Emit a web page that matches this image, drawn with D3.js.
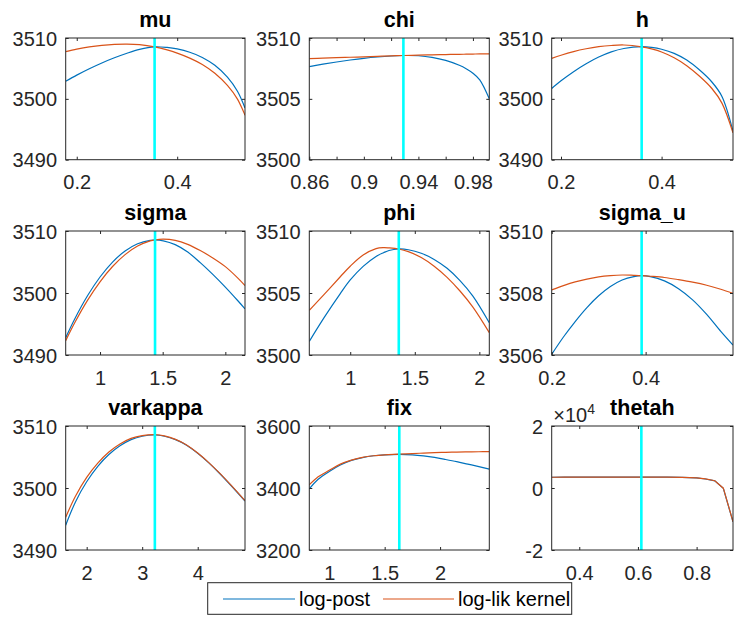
<!DOCTYPE html>
<html>
<head>
<meta charset="utf-8">
<script src="https://cdn.jsdelivr.net/npm/d3@7"></script>
<style>
  html, body { margin: 0; padding: 0; background: #fff; }
  svg { display: block; }
</style>
</head>
<body>
<svg id="chart" width="735" height="617"></svg>
<script>
// ---- parameters, modes and axis limits ----
const paramNames = ["mu", "chi", "h", "sigma", "phi", "sigma_u", "varkappa", "fix", "thetah"];
const modeValues = [0.355, 0.929, 0.3604, 1.439, 1.376, 0.3915, 3.228, 1.632, 0.6116];
const xLimits = [[0.178, 0.535], [0.86, 0.992], [0.1815, 0.542], [0.726, 2.157], [0.683, 2.077],
                 [0.2, 0.586], [1.622, 4.852], [0.82, 2.444], [0.306, 0.924]];
const yLimits = [[3490, 3510], [3500, 3510], [3490, 3510], [3490, 3510], [3500, 3510],
                 [3506, 3510], [3490, 3510], [3200, 3600], [-20000, 20000]];

// ---- tick values and their labels ----
const xTicks = [[0.2, 0.4], [0.86, 0.88, 0.9, 0.92, 0.94, 0.96, 0.98], [0.2, 0.4], [1, 1.5, 2], [1, 1.5, 2],
                [0.2, 0.4], [2, 3, 4], [1, 1.5, 2], [0.4, 0.6, 0.8]];
const xTickLabels = [["0.2", "0.4"], ["0.86", "", "0.9", "", "0.94", "", "0.98"], ["0.2", "0.4"],
                     ["1", "1.5", "2"], ["1", "1.5", "2"], ["0.2", "0.4"], ["2", "3", "4"],
                     ["1", "1.5", "2"], ["0.4", "0.6", "0.8"]];
const yTicks = [[3490, 3500, 3510], [3500, 3505, 3510], [3490, 3500, 3510], [3490, 3500, 3510],
                [3500, 3505, 3510], [3506, 3508, 3510], [3490, 3500, 3510], [3200, 3400, 3600],
                [-20000, 0, 20000]];
const yTickLabels = [["3490", "3500", "3510"], ["3500", "3505", "3510"], ["3490", "3500", "3510"],
                     ["3490", "3500", "3510"], ["3500", "3505", "3510"], ["3506", "3508", "3510"],
                     ["3490", "3500", "3510"], ["3200", "3400", "3600"], ["-2", "0", "2"]];

// ---- profiles: parameter grid, log-posterior, log-likelihood kernel ----
const muGrid    = [0.178, 0.2, 0.225, 0.25, 0.275, 0.3, 0.325, 0.355, 0.38, 0.4, 0.425, 0.45, 0.475, 0.5, 0.52, 0.535];
const muPost    = [3502.9, 3503.9, 3504.95, 3505.9, 3506.75, 3507.5, 3508.13, 3508.55, 3508.45, 3508.21, 3507.66, 3506.81, 3505.51, 3503.56, 3501.24, 3498.5];
const muLik     = [3507.75, 3508.16, 3508.53, 3508.79, 3508.95, 3509.0, 3508.9, 3508.54, 3508.04, 3507.52, 3506.7, 3505.65, 3504.2, 3502.2, 3499.96, 3497.3];

const chiGrid   = [0.86, 0.87, 0.88, 0.89, 0.9, 0.91, 0.92, 0.929, 0.94, 0.95, 0.96, 0.97, 0.975, 0.98, 0.985, 0.992];
const chiPost   = [3507.65, 3507.85, 3508.03, 3508.19, 3508.33, 3508.44, 3508.52, 3508.56, 3508.54, 3508.41, 3508.16, 3507.76, 3507.48, 3507.11, 3506.56, 3505.0];
const chiLik    = [3508.3, 3508.34, 3508.38, 3508.42, 3508.45, 3508.49, 3508.53, 3508.56, 3508.59, 3508.62, 3508.64, 3508.66, 3508.67, 3508.68, 3508.69, 3508.7];

const hGrid     = [0.1815, 0.2, 0.225, 0.25, 0.275, 0.3, 0.325, 0.3604, 0.38, 0.4, 0.425, 0.45, 0.475, 0.5, 0.52, 0.542];
const hPost     = [3501.71, 3502.97, 3504.47, 3505.77, 3506.87, 3507.72, 3508.27, 3508.57, 3508.45, 3508.15, 3507.47, 3506.37, 3504.77, 3502.77, 3500.4, 3494.67];
const hLik      = [3506.65, 3507.17, 3507.77, 3508.23, 3508.57, 3508.77, 3508.85, 3508.55, 3508.2, 3507.7, 3506.75, 3505.45, 3503.75, 3501.7, 3499.3, 3494.4];

const sigmaGrid = [0.726, 0.8, 0.9, 1.0, 1.1, 1.2, 1.3, 1.4, 1.439, 1.505, 1.6, 1.7, 1.8, 1.9, 2.0, 2.1, 2.157];
const sigmaPost = [3492.79, 3495.89, 3499.55, 3502.58, 3504.99, 3506.78, 3507.95, 3508.5, 3508.55, 3508.42, 3507.8, 3506.6, 3504.9, 3503.0, 3500.95, 3498.75, 3497.45];
const sigmaLik  = [3492.32, 3495.28, 3498.82, 3501.81, 3504.27, 3506.19, 3507.57, 3508.4, 3508.58, 3508.7, 3508.5, 3507.85, 3506.85, 3505.65, 3504.25, 3502.4, 3501.2];

const phiGrid   = [0.683, 0.8, 0.923, 1.0, 1.1, 1.2, 1.258, 1.3, 1.376, 1.45, 1.55, 1.65, 1.75, 1.85, 1.95, 2.077];
const phiPost   = [3501.1, 3503.05, 3504.95, 3506.05, 3507.15, 3507.95, 3508.25, 3508.43, 3508.55, 3508.49, 3508.21, 3507.71, 3506.99, 3506.0, 3504.75, 3502.6];
const phiLik    = [3503.6, 3504.91, 3506.31, 3507.16, 3508.06, 3508.58, 3508.66, 3508.64, 3508.55, 3508.34, 3507.86, 3507.16, 3506.26, 3505.16, 3503.86, 3501.8];

const sigmauGrid = [0.2, 0.225, 0.25, 0.275, 0.3, 0.325, 0.35, 0.375, 0.3915, 0.41, 0.44, 0.47, 0.5, 0.53, 0.56, 0.586];
const sigmauPost = [3506.02, 3506.58, 3507.08, 3507.53, 3507.91, 3508.21, 3508.42, 3508.53, 3508.56, 3508.53, 3508.39, 3508.14, 3507.78, 3507.31, 3506.76, 3506.32];
const sigmauLik  = [3508.1, 3508.24, 3508.36, 3508.45, 3508.52, 3508.56, 3508.58, 3508.57, 3508.56, 3508.54, 3508.5, 3508.43, 3508.35, 3508.25, 3508.12, 3507.99];

const varkappaGrid = [1.622, 1.8, 2.0, 2.2, 2.4, 2.6, 2.8, 3.0, 3.228, 3.4, 3.6, 3.8, 4.0, 4.2, 4.4, 4.6, 4.852];
const varkappaPost = [3494.0, 3497.8, 3501.0, 3503.5, 3505.4, 3506.8, 3507.8, 3508.35, 3508.55, 3508.35, 3507.8, 3506.9, 3505.6, 3504.05, 3502.3, 3500.4, 3497.9];
const varkappaLik  = [3495.3, 3498.7, 3501.7, 3504.0, 3505.8, 3507.1, 3508.0, 3508.45, 3508.6, 3508.4, 3507.85, 3506.95, 3505.65, 3504.1, 3502.35, 3500.45, 3497.95];

const fixGrid   = [0.82, 0.9, 1.0, 1.1, 1.2, 1.3, 1.4, 1.5, 1.632, 1.75, 1.85, 1.95, 2.05, 2.15, 2.25, 2.35, 2.444];
const fixPost   = [3397, 3428, 3453, 3474, 3489, 3498, 3504, 3507, 3508.6, 3507, 3503.5, 3498.5, 3492, 3485, 3477, 3469, 3461];
const fixLik    = [3410, 3436, 3457, 3477, 3490, 3499, 3504, 3507, 3509, 3511, 3512.6, 3514, 3515, 3515.8, 3516.5, 3517, 3517.3];

const thetahGrid = [0.306, 0.35, 0.4, 0.45, 0.5, 0.55, 0.6116, 0.65, 0.7, 0.75, 0.8, 0.83, 0.862, 0.891, 0.924];
const thetahPost = [3470, 3480, 3490, 3498, 3503, 3506, 3508.6, 3505, 3490, 3440, 3250, 2900, 2300, -100, -10900];
const thetahLik  = [3472, 3482, 3491, 3499, 3504, 3507, 3509, 3506, 3492, 3445, 3260, 2920, 2330, -60, -10850];

const gridX   = [muGrid, chiGrid, hGrid, sigmaGrid, phiGrid, sigmauGrid, varkappaGrid, fixGrid, thetahGrid];
const logPost = [muPost, chiPost, hPost, sigmaPost, phiPost, sigmauPost, varkappaPost, fixPost, thetahPost];
const logLik  = [muLik, chiLik, hLik, sigmaLik, phiLik, sigmauLik, varkappaLik, fixLik, thetahLik];

const seriesNames = ["log-post", "log-lik kernel"];

// ---- layout of the 3x3 grid ----
const colLeft   = [65.7, 309.3, 551.7];
const colRight  = [245, 489.3, 733];
const rowTop    = [38, 231, 426];
const rowBottom = [159.7, 355, 550];

const BLUE = "#0072BD", ORANGE = "#D95319", CYAN = "#00FFFF", AXIS = "#262626";
const FONT = "'Liberation Sans', Arial, Helvetica, sans-serif";

const svg = d3.select("#chart");
svg.append("rect").attr("width", 735).attr("height", 617).attr("fill", "#fff");

paramNames.forEach((name, i) => {
  const r = Math.floor(i / 3), c = i % 3;
  const x0 = colLeft[c], x1 = colRight[c], y0 = rowTop[r], y1 = rowBottom[r];
  const w = x1 - x0, h = y1 - y0;

  const x = d3.scaleLinear().domain(xLimits[i]).range([0, w]);
  const y = d3.scaleLinear().domain(yLimits[i]).range([h, 0]);

  const g = svg.append("g").attr("transform", `translate(${x0},${y0})`);

  const clipId = "clip" + i;
  g.append("clipPath").attr("id", clipId)
    .append("rect").attr("x", 0).attr("y", 0).attr("width", w).attr("height", h);

  const plot = g.append("g").attr("clip-path", `url(#${clipId})`);
  const line = d3.line()
    .x(d => x(d[0])).y(d => y(d[1]))
    .curve(name === "thetah" ? d3.curveLinear : d3.curveCatmullRom.alpha(0.5));

  const xs = gridX[i];
  plot.append("path")
    .attr("d", line(xs.map((v, k) => [v, logPost[i][k]])))
    .attr("fill", "none").attr("stroke", BLUE).attr("stroke-width", 1.2);
  plot.append("path")
    .attr("d", line(xs.map((v, k) => [v, logLik[i][k]])))
    .attr("fill", "none").attr("stroke", ORANGE).attr("stroke-width", 1.2);

  // vertical marker at the mode
  plot.append("line")
    .attr("x1", x(modeValues[i])).attr("x2", x(modeValues[i]))
    .attr("y1", y(yLimits[i][0])).attr("y2", y(yLimits[i][1]))
    .attr("stroke", CYAN).attr("stroke-width", 2.6);

  // axes with inward ticks on all four sides
  const styleAxis = sel => {
    sel.select(".domain").remove();
    sel.selectAll(".tick line").attr("stroke", AXIS).attr("stroke-width", 1);
    sel.selectAll("text").attr("fill", AXIS).style("font-family", FONT).style("font-size", "20px");
  };
  const xLab = xTickLabels[i], yLab = yTickLabels[i];

  g.append("g").attr("transform", `translate(0,${h})`)
    .call(d3.axisBottom(x).tickValues(xTicks[i]).tickSize(-3).tickPadding(15.5)
      .tickFormat((d, k) => xLab[k]))
    .call(styleAxis);
  g.append("g")
    .call(d3.axisTop(x).tickValues(xTicks[i]).tickSize(-3).tickFormat(""))
    .call(styleAxis);
  g.append("g")
    .call(d3.axisLeft(y).tickValues(yTicks[i]).tickSize(-3).tickPadding(8.7)
      .tickFormat((d, k) => yLab[k]))
    .call(styleAxis)
    .selectAll("text").attr("dy", "0.35em");
  g.append("g").attr("transform", `translate(${w},0)`)
    .call(d3.axisRight(y).tickValues(yTicks[i]).tickSize(-3).tickFormat(""))
    .call(styleAxis);

  g.append("rect").attr("x", 0).attr("y", 0).attr("width", w).attr("height", h)
    .attr("fill", "none").attr("stroke", AXIS).attr("stroke-width", 1);

  // title
  g.append("text")
    .attr("x", w / 2).attr("y", -10.8)
    .attr("text-anchor", "middle")
    .style("font-family", FONT).style("font-size", "21.5px").style("font-weight", "bold")
    .attr("fill", "#000")
    .text(name);

  // exponent label for the scaled axis
  if (name === "thetah") {
    const ex = g.append("text").attr("x", 1.5).attr("y", -4.5)
      .style("font-family", FONT).style("font-size", "20px").attr("fill", AXIS);
    ex.append("tspan").text("\u00D710");
    ex.append("tspan").attr("dy", -8).style("font-size", "14px").text("4");
  }
});

// ---- legend ----
const leg = svg.append("g");
leg.append("rect").attr("x", 207.7).attr("y", 582.7).attr("width", 364).attr("height", 31.6)
  .attr("fill", "#fff").attr("stroke", AXIS).attr("stroke-width", 1);
const legItems = [
  { lx0: 223, lx1: 295, tx: 299, color: BLUE },
  { lx0: 383, lx1: 454, tx: 458, color: ORANGE }
];
legItems.forEach((it, k) => {
  leg.append("line").attr("x1", it.lx0).attr("x2", it.lx1).attr("y1", 599).attr("y2", 599)
    .attr("stroke", it.color).attr("stroke-width", 1.2);
  leg.append("text").attr("x", it.tx).attr("y", 605.8)
    .style("font-family", FONT).style("font-size", "20px").attr("fill", "#000")
    .text(seriesNames[k]);
});
</script>
</body>
</html>
